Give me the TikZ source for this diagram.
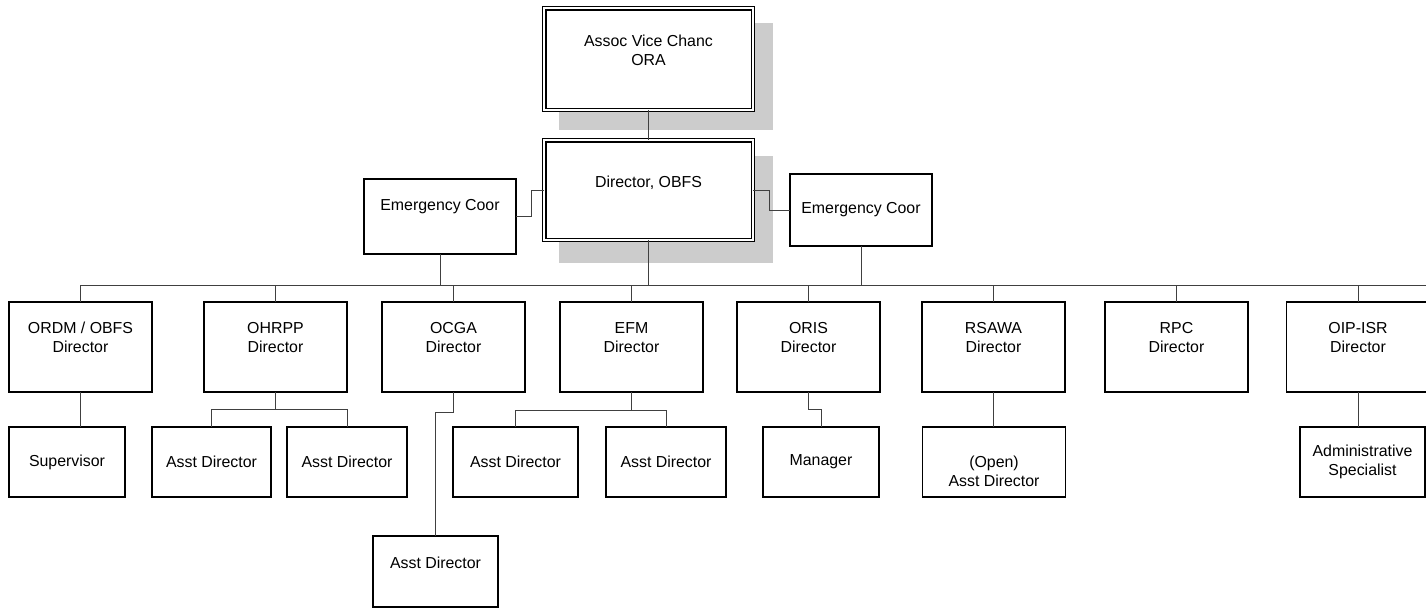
\documentclass[tikz,border=0pt]{standalone}
\usepackage{fontspec}
\setmainfont{Liberation Sans}
\usetikzlibrary{backgrounds}
\definecolor{shadowgray}{HTML}{CCCCCC}
\definecolor{linkgray}{HTML}{404040}
\tikzset{
  bx/.style={draw=black, fill=white, line width=1.1pt, rectangle, inner sep=0pt, outer sep=0pt},
  dbx/.style={draw=black, fill=white, double=white, double distance=2.3pt, line width=1.1pt, rectangle, inner sep=0pt, outer sep=0pt},
  lb/.style={align=center, font=\fontsize{15.9pt}{19pt}\selectfont, inner sep=0pt},
  link/.style={draw=linkgray, line width=0.9pt},
  shadowbox/.style={fill=shadowgray}
}
\begin{document}
\begin{tikzpicture}[x=1pt, y=-1pt]
\useasboundingbox (0,0) rectangle (1426,608);
% shadows
\fill[shadowbox] (559,23) rectangle (773,130);
\fill[shadowbox] (559,156) rectangle (773,263);
% top level
\node[dbx, minimum width=208.5pt, minimum height=101.5pt, label={[lb,yshift=9pt]center:{Assoc Vice Chanc\\ORA}}] (avc) at (648.5,59) {};
\node[dbx, minimum width=208.5pt, minimum height=99.5pt, label={[lb,yshift=7pt]center:{Director, OBFS}}] (dir) at (648.5,190) {};
\node[bx, minimum width=152pt, minimum height=75pt, label={[lb,yshift=9.5pt]center:{Emergency Coor}}] (ecl) at (440,216.5) {};
\node[bx, minimum width=142pt, minimum height=72pt, label={[lb]center:{Emergency Coor}}] (ecr) at (861,210) {};
% second row
\tikzset{r2/.style={bx, minimum width=143pt, minimum height=90pt}}
\node[r2, label={[lb,yshift=9.5pt]center:{ORDM / OBFS\\Director}}] (ordm) at (80.5,347) {};
\node[r2, label={[lb,yshift=9.5pt]center:{OHRPP\\Director}}] (ohrpp) at (275.5,347) {};
\node[r2, label={[lb,yshift=9.5pt]center:{OCGA\\Director}}] (ocga) at (453.5,347) {};
\node[r2, label={[lb,yshift=9.5pt]center:{EFM\\Director}}] (efm) at (631.5,347) {};
\node[r2, label={[lb,yshift=9.5pt]center:{ORIS\\Director}}] (oris) at (808.5,347) {};
\node[r2, label={[lb,yshift=9.5pt]center:{RSAWA\\Director}}] (rsawa) at (993.5,347) {};
\node[r2, label={[lb,yshift=9.5pt]center:{RPC\\Director}}] (rpc) at (1176.5,347) {};
\node[r2, label={[lb,yshift=9.5pt]center:{OIP-ISR\\Director}}] (oip) at (1358,347) {};
% third row
\tikzset{r3/.style={bx, minimum height=70pt}}
\node[r3, minimum width=116pt, label={[lb]center:{Supervisor}}] (sup) at (67,462) {};
\node[r3, minimum width=119pt, label={[lb]center:{Asst Director}}] (ohA) at (211.5,462) {};
\node[r3, minimum width=120pt, label={[lb]center:{Asst Director}}] (ohB) at (347,462) {};
\node[r3, minimum width=125pt, label={[lb]center:{Asst Director}}] (efA) at (515.5,462) {};
\node[r3, minimum width=120pt, label={[lb]center:{Asst Director}}] (efB) at (666,462) {};
\node[r3, minimum width=116pt, label={[lb]center:{Manager}}] (mgr) at (821,462) {};
\node[r3, minimum width=143pt, label={[lb,yshift=-9pt]center:{(Open)\\Asst Director}}] (rsA) at (994,462) {};
\node[r3, minimum width=125pt, label={[lb]center:{Administrative\\Specialist}}] (adm) at (1362.5,462) {};
\node[bx, minimum width=125pt, minimum height=71pt, label={[lb,yshift=8.5pt]center:{Asst Director}}] (ocA) at (435.5,571.5) {};
% connectors
\coordinate (busL) at (80.5,285);
\coordinate (busR) at (1426,285);
\draw[link] (avc.south) -- (dir.north);
\draw[link] (dir.west) -- ++(-13,0) |- (ecl.east);
\draw[link] (dir.east) -- ++(17,0) |- (ecr.west);
\draw[link] (busL) -- (busR);
\draw[link] (ecl.south) -- (ecl.south |- busL);
\draw[link] (dir.south) -- (dir.south |- busL);
\draw[link] (ecr.south) -- (ecr.south |- busL);
\foreach \n in {ordm,ohrpp,ocga,efm,oris,rsawa,rpc,oip}{
  \draw[link] (\n.north |- busL) -- (\n.north);
}
\draw[link] (ordm.south) -- (ordm.south |- sup.north);
\draw[link] (ohrpp.south) -- ++(0,17) -| (ohA.north);
\draw[link] (ohrpp.south) -- ++(0,17) -| (ohB.north);
\draw[link] (ocga.south) -- ++(0,20) -| (ocA.north);
\draw[link] (efm.south) -- ++(0,18) -| (efA.north);
\draw[link] (efm.south) -- ++(0,18) -| (efB.north);
\draw[link] (oris.south) -- ++(0,17) -| (mgr.north);
\draw[link] (rsawa.south) -- (rsawa.south |- rsA.north);
\draw[link] (oip.south) -- (oip.south |- adm.north);
\end{tikzpicture}
\end{document}
